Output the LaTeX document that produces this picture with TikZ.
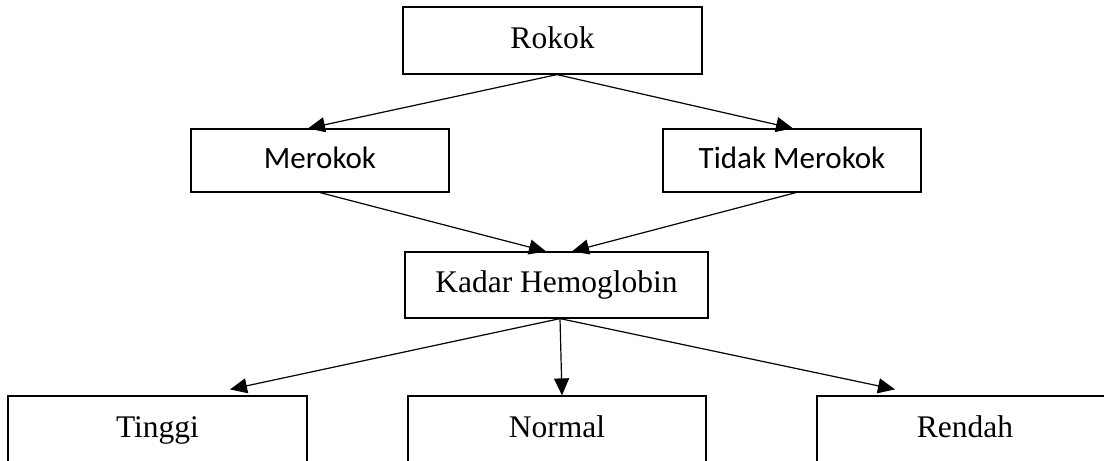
\documentclass[tikz,border=0pt]{standalone}
\usepackage{fontspec}
\setmainfont{Liberation Serif}
\newfontfamily\calibri{Carlito}
\usetikzlibrary{arrows.meta}
\begin{document}
\begin{tikzpicture}[x=1bp,y=-1bp,
  box/.style={draw=black,line width=1.2bp,inner sep=0pt,text height=21bp,text depth=5bp,
    font=\fontsize{31.5bp}{36bp}\selectfont},
  cbox/.style={box,font=\calibri\fontsize{31bp}{36bp}\selectfont},
  arr/.style={line width=1.2bp,-{Triangle[length=17bp,width=15bp]}}]
\useasboundingbox (0,0) rectangle (1104,461);
\clip (0,0) rectangle (1104,461);
\node[box,minimum width=299bp,minimum height=67bp] (rokok) at (552.5,40.5) {Rokok};
\node[cbox,minimum width=258bp,minimum height=63bp] (merokok) at (320,160.5) {Merokok};
\node[cbox,minimum width=258bp,minimum height=63bp] (tidak) at (792,160.5) {Tidak Merokok};
\node[box,minimum width=303bp,minimum height=66bp] (kadar) at (556.5,285) {Kadar Hemoglobin};
\node[box,minimum width=299bp,minimum height=67bp] (tinggi) at (157.5,429.5) {Tinggi};
\node[box,minimum width=298bp,minimum height=67bp] (normal) at (557,429.5) {Normal};
\node[box,minimum width=296bp,minimum height=67bp] (rendah) at (965,429.5) {Rendah};
\draw[arr] ([xshift=4.5bp]rokok.south) -- ([xshift=-12bp]merokok.north);
\draw[arr] ([xshift=4.5bp]rokok.south) -- ([xshift=1bp]tidak.north);
\draw[arr] (merokok.south) -- ([xshift=-10.5bp]kadar.north);
\draw[arr] ([xshift=4bp]tidak.south) -- ([xshift=15.5bp]kadar.north);
\draw[arr] ([xshift=3.5bp]kadar.south) -- ([xshift=72.5bp,yshift=6bp]tinggi.north);
\draw[arr] ([xshift=3.5bp]kadar.south) -- ([xshift=5bp]normal.north);
\draw[arr] ([xshift=3.5bp]kadar.south) -- ([xshift=-70bp,yshift=6bp]rendah.north);
\end{tikzpicture}
\end{document}
